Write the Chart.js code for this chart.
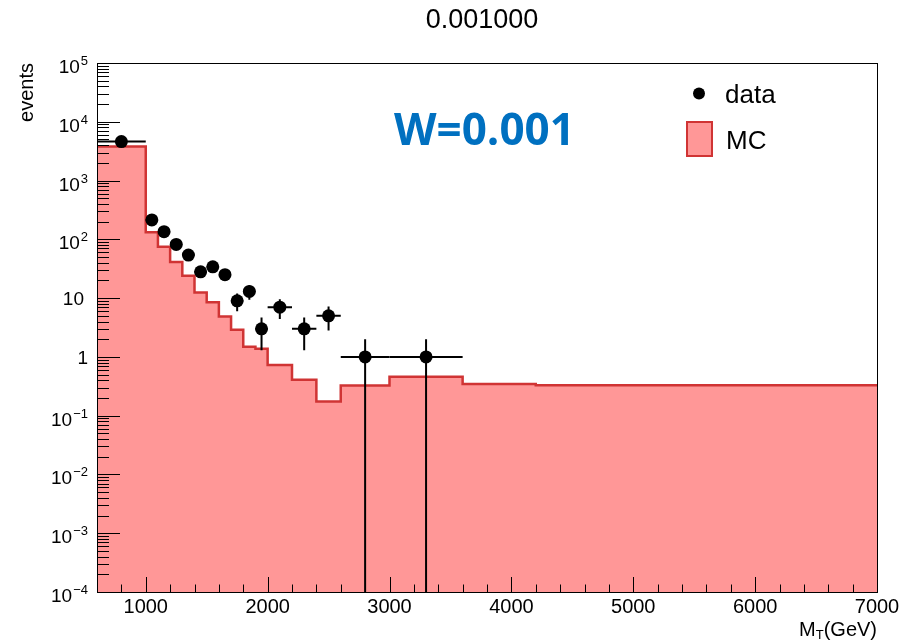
<!DOCTYPE html>
<html>
<head>
<meta charset="utf-8">
<script src="https://cdn.jsdelivr.net/npm/chart.js@4.4.1/dist/chart.umd.min.js"></script>
<style>
  html, body { margin: 0; padding: 0; background: #fff; }
  canvas { display: block; }
</style>
</head>
<body>
<canvas id="chart" width="910" height="640"></canvas>
<script>
// MC histogram: bin edges and contents
const mcEdges = [600, 1000, 1100, 1200, 1300, 1400, 1500, 1600, 1700, 1800, 1900, 2000, 2200, 2400, 2600, 3000, 3600, 4200, 7000];
const mcValues = [3800, 132, 75, 41, 24, 12.4, 8.5, 4.85, 2.9, 1.49, 1.37, 0.73, 0.41, 0.174, 0.325, 0.46, 0.347, 0.33];

// data points with errors
const dataX = [800, 1050, 1150, 1250, 1350, 1450, 1550, 1650, 1750, 1850, 1950, 2100, 2300, 2500, 2800, 3300];
const dataXErr = [200, 50, 50, 50, 50, 50, 50, 50, 50, 50, 50, 100, 100, 100, 200, 300];
const dataY = [4600, 214, 135, 82, 54, 28, 34, 25, 9, 13, 3, 7, 3, 5, 1, 1];
const dataYErr = [68, 14.6, 11.6, 9.1, 7.3, 5.3, 5.8, 5, 3, 3.6, 1.7, 2.6, 1.7, 2.2, 1, 1];

// axis ticks
const xTicks = [1000, 2000, 3000, 4000, 5000, 6000, 7000];
const yDecades = [-4, -3, -2, -1, 0, 1, 2, 3, 4, 5];

const FONT = '"Liberation Sans", Arial, Helvetica, sans-serif';
const FILL = '#ff9797';
const LINE = '#d03434';

const rootStyle = {
    id: 'rootStyle',
    beforeDatasetDraw(chart, args) {
        if (args.index !== 0) return;
        const { ctx, chartArea } = chart;
        const xs = chart.scales.x, ys = chart.scales.y;
        ctx.save();
        ctx.strokeStyle = '#000';
        ctx.lineWidth = 2;
        dataX.forEach((x, i) => {
            const y = dataY[i];
            const py = ys.getPixelForValue(y);
            const x0 = xs.getPixelForValue(x - dataXErr[i]);
            const x1 = xs.getPixelForValue(x + dataXErr[i]);
            const lo = y - dataYErr[i];
            const y0 = lo > 0 ? Math.min(ys.getPixelForValue(lo), chartArea.bottom) : chartArea.bottom;
            const y1 = ys.getPixelForValue(y + dataYErr[i]);
            const px = xs.getPixelForValue(x);
            ctx.beginPath();
            ctx.moveTo(x0, py); ctx.lineTo(x1, py);
            ctx.moveTo(px, y0); ctx.lineTo(px, y1);
            ctx.stroke();
        });
        ctx.restore();
    },
    afterDraw(chart) {
        const { ctx, chartArea: a } = chart;
        const xs = chart.scales.x, ys = chart.scales.y;
        ctx.save();
        ctx.strokeStyle = '#000';
        ctx.lineWidth = 1;

        // y ticks (inside the frame)
        ctx.beginPath();
        yDecades.forEach(k => {
            const p = Math.round(ys.getPixelForValue(Math.pow(10, k))) + 0.5;
            ctx.moveTo(a.left, p); ctx.lineTo(a.left + 23, p);
            if (k < 5) {
                for (let m = 2; m <= 9; m++) {
                    const q = Math.round(ys.getPixelForValue(m * Math.pow(10, k))) + 0.5;
                    ctx.moveTo(a.left, q); ctx.lineTo(a.left + 12, q);
                }
            }
        });
        // x ticks
        for (let v = 600; v <= 7000; v += 200) {
            const p = Math.round(xs.getPixelForValue(v)) + 0.5;
            const len = v % 1000 === 0 ? 15 : 7.5;
            ctx.moveTo(p, a.bottom); ctx.lineTo(p, a.bottom - len);
        }
        ctx.stroke();

        // frame
        ctx.strokeRect(Math.round(a.left) + 0.5, Math.round(a.top) + 0.5,
            Math.round(a.right - a.left), Math.round(a.bottom - a.top));

        // y labels 10^k
        ctx.fillStyle = '#000';
        ctx.textBaseline = 'alphabetic';
        yDecades.forEach(k => {
            const p = ys.getPixelForValue(Math.pow(10, k));
            const right = 88;
            if (k === 0 || k === 1) {
                ctx.font = '19px ' + FONT;
                ctx.textAlign = 'right';
                ctx.fillText(k === 0 ? '1' : '10', k === 0 ? right : 84, p + 7);
                return;
            }
            const exp = k < 0 ? '\u2212' + (-k) : String(k);
            ctx.font = '13px ' + FONT;
            const ew = ctx.measureText(exp).width;
            ctx.textAlign = 'left';
            ctx.fillText(exp, right - ew, p + 2);
            ctx.font = '19px ' + FONT;
            ctx.textAlign = 'right';
            ctx.fillText('10', right - ew - 1, p + 10);
        });

        // y title
        ctx.save();
        ctx.translate(33, a.top);
        ctx.rotate(-Math.PI / 2);
        ctx.font = '20px ' + FONT;
        ctx.textAlign = 'right';
        ctx.fillText('events', 0, 0);
        ctx.restore();

        // x title M_T(GeV)
        ctx.textAlign = 'left';
        ctx.font = '20px ' + FONT;
        const wM = ctx.measureText('M').width;
        const wRest = ctx.measureText('(GeV)').width;
        ctx.font = '13px ' + FONT;
        const wT = ctx.measureText('T').width;
        let tx = a.right - (wM + wT + wRest);
        ctx.font = '20px ' + FONT;
        ctx.fillText('M', tx, 636);
        ctx.font = '13px ' + FONT;
        ctx.fillText('T', tx + wM, 639);
        ctx.font = '20px ' + FONT;
        ctx.fillText('(GeV)', tx + wM + wT, 636);

        // title
        ctx.textAlign = 'center';
        ctx.font = '27px ' + FONT;
        ctx.fillText('0.001000', 482, 28);

        // legend
        ctx.beginPath();
        ctx.arc(699, 93.5, 6, 0, Math.PI * 2);
        ctx.fill();
        ctx.textAlign = 'left';
        ctx.font = '26px ' + FONT;
        ctx.fillText('data', 725, 102.5);
        ctx.fillStyle = FILL;
        ctx.fillRect(687, 122, 25, 34);
        ctx.strokeStyle = LINE;
        ctx.lineWidth = 2;
        ctx.strokeRect(687, 122, 25, 34);
        ctx.fillStyle = '#000';
        ctx.fillText('MC', 726, 149);

        // annotation
        ctx.fillStyle = '#0070c0';
        ctx.font = 'bold 44px "Open Sans", sans-serif';
        ctx.fillText('W=0.001', 394, 145);
        ctx.restore();
    }
};

new Chart(document.getElementById('chart'), {
    data: {
        datasets: [
            {
                type: 'scatter',
                label: 'data',
                data: dataX.map((x, i) => ({ x, y: dataY[i] })),
                pointRadius: 6.5,
                pointHoverRadius: 6.5,
                backgroundColor: '#000',
                borderWidth: 0
            },
            {
                type: 'line',
                label: 'MC',
                data: mcEdges.map((x, i) => ({ x, y: mcValues[Math.min(i, mcValues.length - 1)] })),
                stepped: 'before',
                fill: 'start',
                backgroundColor: FILL,
                borderColor: LINE,
                borderWidth: 2.5,
                pointRadius: 0
            }
        ]
    },
    options: {
        responsive: false,
        animation: false,
        layout: { padding: { top: 63, right: 33, left: 0, bottom: 0 } },
        plugins: {
            legend: { display: false },
            tooltip: { enabled: false },
            title: { display: false }
        },
        scales: {
            x: {
                type: 'linear',
                min: 600,
                max: 7000,
                afterBuildTicks: s => { s.ticks = xTicks.map(v => ({ value: v })); },
                afterFit: s => { s.height = 48; },
                grid: { display: false, drawTicks: false },
                border: { display: false },
                ticks: {
                    padding: 3,
                    color: '#000',
                    font: { family: FONT, size: 20 },
                    maxRotation: 0,
                    callback: v => String(v)
                }
            },
            y: {
                type: 'logarithmic',
                min: 1e-4,
                max: 1e5,
                afterBuildTicks: s => { s.ticks = yDecades.map(k => ({ value: Math.pow(10, k) })); },
                afterFit: s => { s.width = 97; },
                grid: { display: false, drawTicks: false },
                border: { display: false },
                ticks: { display: false }
            }
        }
    },
    plugins: [rootStyle]
});
</script>
</body>
</html>
